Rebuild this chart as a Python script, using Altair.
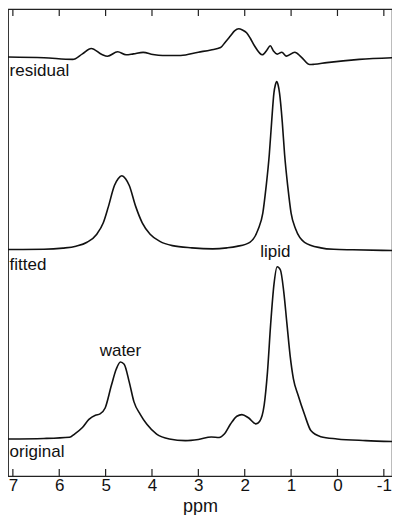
import altair as alt
import pandas as pd

x_ticks = [7, 6, 5, 4, 3, 2, 1, 0, -1]

residual_ppm = [7.11, 6.33, 5.71, 5.50, 5.31, 5.08, 4.96, 4.74, 4.56, 4.40, 4.19, 3.98, 3.77, 3.38,
                3.00, 2.73, 2.52, 2.42, 2.31, 2.22, 2.13, 2.05, 1.96, 1.88, 1.79, 1.62, 1.52, 1.45,
                1.38, 1.30, 1.20, 1.10, 0.92, 0.78, 0.60, 0.50, 0.23, -0.47, -1.20]
residual_val = [-0.3, -1.0, -2.7, 3.0, 8.5, 2.3, 0.5, 5.2, 2.0, 3.0, 4.5, 2.3, 1.3, 1.3,
                4.7, 7.0, 9.5, 15.0, 21.3, 26.5, 28.7, 27.5, 24.7, 19.0, 11.3, 2.0, 7.0, 11.3,
                6.0, 2.7, 4.7, 0.7, 4.7, -0.3, -8.0, -7.7, -6.0, -2.7, -1.0]

fitted_ppm = [7.11, 6.33, 5.92, 5.64, 5.40, 5.19, 5.05, 4.94, 4.81, 4.73, 4.65, 4.57, 4.49, 4.35,
              4.21, 4.04, 3.83, 3.56, 3.14, 2.69, 2.38, 2.17, 1.89, 1.71, 1.61, 1.54, 1.47, 1.42,
              1.37, 1.34, 1.31, 1.28, 1.25, 1.19, 1.14, 1.07, 1.00, 0.90, 0.71, 0.36, 0.08,
              -0.33, -1.20]
fitted_val = [0.3, 0.5, 1.7, 3.7, 7.7, 16.0, 27.7, 44.3, 66.0, 73.0, 76.0, 73.0, 66.0, 44.3,
              27.7, 16.0, 8.7, 4.3, 2.0, 1.0, 2.0, 3.5, 7.7, 21.0, 37.7, 64.3, 97.7, 131.0,
              161.0, 169.0, 172.7, 169.0, 161.0, 131.0, 97.7, 64.3, 37.7, 21.0, 7.7, 2.0, 0.5,
              0.0, -0.7]

original_ppm = [7.11, 6.33, 5.78, 5.67, 5.50, 5.36, 5.22, 5.12, 5.01, 4.875, 4.77, 4.68, 4.60,
                4.49, 4.39, 4.25, 4.11, 3.90, 3.625, 3.28, 3.00, 2.72, 2.55, 2.44, 2.31, 2.17,
                2.06, 1.92, 1.76, 1.68, 1.58, 1.51, 1.44, 1.37, 1.30, 1.23, 1.16, 1.09, 1.02,
                0.95, 0.85, 0.71, 0.57, 0.36, 0.01, -0.61, -1.20]
original_val = [1.0, 1.5, 2.7, 6.0, 12.7, 21.0, 25.3, 26.7, 32.7, 56.0, 72.7, 80.0, 77.7,
                59.3, 39.3, 26.0, 16.0, 6.0, 1.0, -0.7, 0.5, 3.0, 2.5, 6.0, 16.0, 24.3,
                26.0, 22.7, 16.5, 19.0, 36.0, 69.3, 119.3, 159.3, 177.7, 174.3, 152.7, 119.3, 86.0,
                62.7, 46.0, 26.0, 9.3, 3.3, 1.0, -0.7, -1.7]

trace_names = ["residual", "fitted", "original"]
trace_offsets = [430, 232, 37]

label_text = ["residual", "fitted", "original", "lipid", "water"]
label_ppm = [7.07, 7.07, 7.07, 1.34, 4.68]
label_y = [410, 211.5, 19, 225, 123]
label_align = ["left", "left", "left", "center", "center"]

rows = []
for name, off, xs, vs in zip(trace_names, trace_offsets,
                             [residual_ppm, fitted_ppm, original_ppm],
                             [residual_val, fitted_val, original_val]):
    for p, v in zip(xs, vs):
        rows.append({"trace": name, "ppm": p, "y": v + off})
df = pd.DataFrame(rows)

lab = pd.DataFrame({"text": label_text, "ppm": label_ppm, "y": label_y, "align": label_align})
ticks_df = pd.DataFrame({"ppm": x_ticks})

FONT = "Liberation Sans"
W, H = 384, 467
TICK = 7
xscale = alt.Scale(domain=[7.105, -1.176], nice=False, zero=False)
yscale = alt.Scale(domain=[0, 479], nice=False, zero=False)

bottom_axis = alt.Axis(orient="bottom", values=x_ticks, domain=False, grid=False,
                       ticks=False, tickSize=0,
                       labelPadding=1, labelFontSize=17, labelFont=FONT, labelColor="#111",
                       labelFlush=False, format="d",
                       labelExpr="replace(datum.label, '\u2212', '-')",
                       title="ppm", titleFontSize=18, titleFont=FONT, titleFontWeight="normal",
                       titleColor="#111", titleBaseline="alphabetic", titleY=35)

xenc = alt.X("ppm:Q", scale=xscale, axis=bottom_axis)
yenc = alt.Y("y:Q", scale=yscale, axis=None)

lines = alt.Chart(df).mark_line(interpolate="monotone", color="#111", strokeWidth=1.6, clip=True).encode(
    x=xenc, y=yenc, detail="trace:N",
)

ticks_bottom = alt.Chart(ticks_df).mark_rule(color="#222", strokeWidth=1.2).encode(
    x=xenc, y=alt.value(H - TICK), y2=alt.value(H),
)
ticks_top = alt.Chart(ticks_df).mark_rule(color="#222", strokeWidth=1.2).encode(
    x=xenc, y=alt.value(0), y2=alt.value(TICK),
)

text_left = alt.Chart(lab[lab["align"] == "left"]).mark_text(
    align="left", baseline="alphabetic", fontSize=17, font=FONT, color="#111"
).encode(x=xenc, y=yenc, text="text:N")

text_center = alt.Chart(lab[lab["align"] == "center"]).mark_text(
    align="center", baseline="alphabetic", fontSize=17, font=FONT, color="#111"
).encode(x=xenc, y=yenc, text="text:N")

chart = alt.layer(lines, ticks_bottom, ticks_top, text_left, text_center).properties(
    width=W, height=H, padding=0
).configure_view(stroke="#222", strokeWidth=1.2)

chart.save("out.html", embed_options={"renderer": "svg", "actions": False})
